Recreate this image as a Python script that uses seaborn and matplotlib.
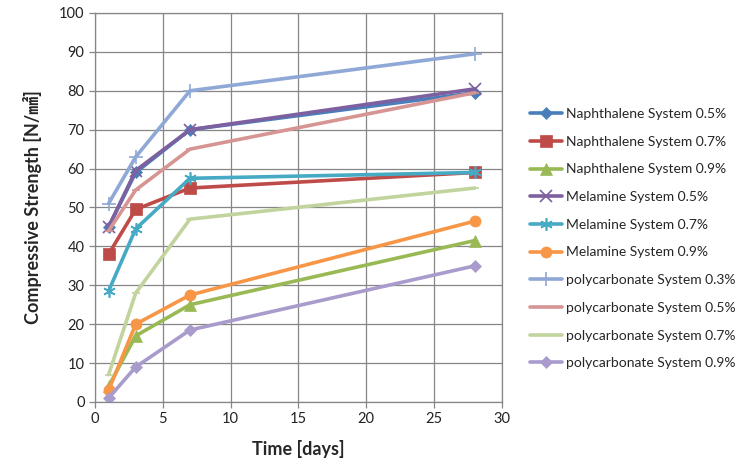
import matplotlib
matplotlib.use("Agg")
import matplotlib.pyplot as plt
import seaborn as sns
import pandas as pd

days = [1, 3, 7, 28]
series_names = [
    "Naphthalene System 0.5%",
    "Naphthalene System 0.7%",
    "Naphthalene System 0.9%",
    "Melamine System 0.5%",
    "Melamine System 0.7%",
    "Melamine System 0.9%",
    "polycarbonate System 0.3%",
    "polycarbonate System 0.5%",
    "polycarbonate System 0.7%",
    "polycarbonate System 0.9%",
]
naph_05 = [45, 59, 70, 79.5]
naph_07 = [38, 49.5, 55, 59]
naph_09 = [4, 17, 25, 41.5]
mel_05 = [45, 59.5, 70, 80.5]
mel_07 = [28.5, 44.5, 57.5, 59]
mel_09 = [3, 20, 27.5, 46.5]
poly_03 = [51, 63, 80, 89.5]
poly_05 = [44, 54.5, 65, 79.5]
poly_07 = [7, 28, 47, 55]
poly_09 = [1, 9, 18.5, 35]
values = [naph_05, naph_07, naph_09, mel_05, mel_07, mel_09,
          poly_03, poly_05, poly_07, poly_09]

colors = ["#4A7EBB", "#BE4B48", "#98B954", "#7D60A0", "#46AAC5",
          "#F79646", "#8FA8D6", "#D69593", "#C2D49E", "#A99BCB"]
markers = ["D", "s", "^", "x", (6, 2, 0), "o", "+", "_", "_", "D"]
msizes = [6, 8, 8, 8, 9, 8, 10, 6, 6, 6]

rows = []
for name, vals in zip(series_names, values):
    for d, v in zip(days, vals):
        rows.append({"series": name, "Time": d, "Strength": v})
df = pd.DataFrame(rows)

sns.set_style("white")
plt.rcParams["font.family"] = ["Lato", "Noto Sans CJK JP", "DejaVu Sans"]

fig = plt.figure(figsize=(7.51, 4.76), dpi=100)
ax = fig.add_axes([0.1265, 0.1555, 0.5419, 0.8172])

for name, c, m, ms in zip(series_names, colors, markers, msizes):
    sub = df[df["series"] == name]
    sns.lineplot(data=sub, x="Time", y="Strength", ax=ax, color=c,
                 marker=m, markersize=ms, linewidth=2.6, label=name,
                 markeredgecolor=c, markeredgewidth=1.2 if m in ["x", "+", "_", (6, 2, 0)] else 0.5)

ax.set_xlim(0, 30)
ax.set_ylim(0, 100)
ax.set_xticks(range(0, 31, 5))
ax.set_yticks(range(0, 101, 10))
ax.grid(True, color="#868686", linewidth=0.9)
for s in ax.spines.values():
    s.set_color("#868686")
    s.set_linewidth(0.9)
ax.tick_params(axis="both", labelsize=10.5, colors="#868686", labelcolor="#222222",
               direction="out", length=4, width=0.9, bottom=True, left=True)

ax.set_xlabel("Time [days]", fontsize=13, fontweight="bold", labelpad=10)
ax.set_ylabel("Compressive Strength [N/㎟]", fontsize=13, fontweight="bold", labelpad=12)

leg = ax.legend(loc="upper left", bbox_to_anchor=(1.055, 0.77), frameon=False,
                fontsize=10, handlelength=2.3, handletextpad=0.3,
                labelspacing=1.13, borderaxespad=0)

fig.savefig("out.png", dpi=100)
